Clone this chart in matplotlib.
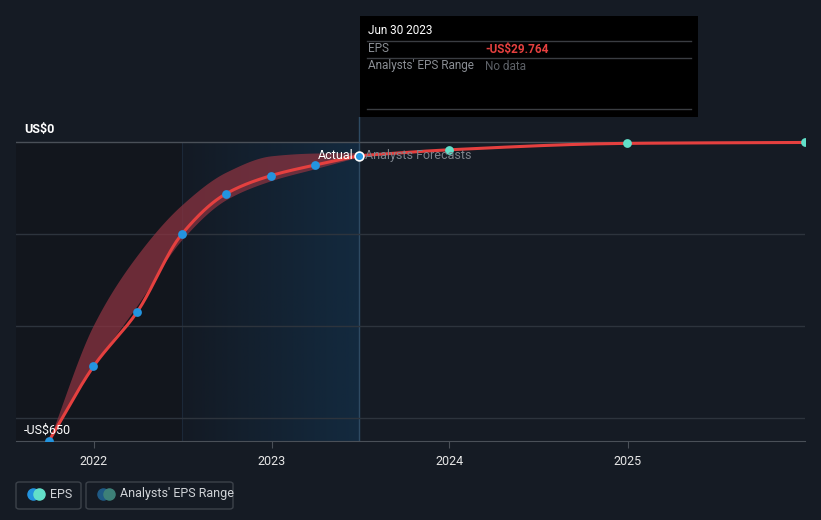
import matplotlib
matplotlib.use("Agg")
import matplotlib.pyplot as plt
import matplotlib.dates as mdates
from matplotlib.patches import FancyBboxPatch, Rectangle
from matplotlib.colors import LinearSegmentedColormap
import numpy as np
from datetime import datetime

plt.rcParams['font.family'] = ['Roboto', 'DejaVu Sans']

# ---- data ----
actual_dates = ["2021-09-30", "2021-12-31", "2022-03-31", "2022-06-30",
                "2022-09-30", "2022-12-31", "2023-03-31", "2023-06-30"]
actual_eps = [-651, -488, -369, -201, -112, -73, -50, -29.764]

forecast_dates = ["2023-06-30", "2023-12-31", "2024-12-31", "2025-12-31"]
forecast_eps = [-29.764, -17, -3, -1]

range_dates = actual_dates
range_high = [-651, -398, -246, -137, -65, -30, -24, -23]
range_low = [-651, -488, -355, -213, -125, -84, -58, -32]

year_ticks = ["2022", "2023", "2024", "2025"]

BG = "#151b24"


def to_num(ds):
    return np.array([mdates.date2num(datetime.strptime(d, "%Y-%m-%d")) for d in ds])


def monotone(x, y, n=400):
    x = np.asarray(x, float); y = np.asarray(y, float)
    h = np.diff(x); d = np.diff(y) / h
    m = np.zeros_like(y)
    m[0] = d[0]; m[-1] = d[-1]
    for i in range(1, len(y) - 1):
        if d[i - 1] * d[i] <= 0:
            m[i] = 0
        else:
            w1 = 2 * h[i] + h[i - 1]; w2 = h[i] + 2 * h[i - 1]
            m[i] = (w1 + w2) / (w1 / d[i - 1] + w2 / d[i])
    xs = np.linspace(x[0], x[-1], n)
    idx = np.clip(np.searchsorted(x, xs) - 1, 0, len(x) - 2)
    t = (xs - x[idx]) / h[idx]
    h00 = 2 * t**3 - 3 * t**2 + 1; h10 = t**3 - 2 * t**2 + t
    h01 = -2 * t**3 + 3 * t**2; h11 = t**3 - t**2
    ys = h00 * y[idx] + h10 * h[idx] * m[idx] + h01 * y[idx + 1] + h11 * h[idx] * m[idx + 1]
    return xs, ys


fig = plt.figure(figsize=(8.21, 5.20), dpi=100, facecolor=BG)
ax = fig.add_axes([16 / 821, 1 - 441 / 520, 789 / 821, (441 - 117) / 520])
ax.set_facecolor(BG)

xa = to_num(actual_dates); xf = to_num(forecast_dates); xr = to_num(range_dates)
x0 = mdates.date2num(datetime(2021, 7, 25))
x1 = mdates.date2num(datetime(2025, 12, 31))
ax.set_xlim(x0, x1)
y_bottom = -650
y_top = (142 - 117) / 0.46
ax.set_ylim(y_bottom, y_top)

# shaded regions
split1 = mdates.date2num(datetime(2022, 6, 30))
split2 = mdates.date2num(datetime(2023, 6, 30))
ax.add_patch(Rectangle((x0, y_bottom), split1 - x0, -y_bottom, facecolor="#12161d", lw=0, zorder=0))
grad = np.linspace(0, 1, 256).reshape(1, -1)
cm = LinearSegmentedColormap.from_list("g", ["#131a24", "#132a3f"])
ax.imshow(grad, cmap=cm, extent=[split1, split2, y_bottom, 0], aspect="auto", zorder=0.5)
ax.axvline(split2, color="#2e4a62", lw=1, zorder=1)
ax.plot([split1, split1], [y_bottom, 0], color="#1b2838", lw=0.8, zorder=1)

# gridlines
for g in [0, -200, -400, -600]:
    ax.axhline(g, color="#2d343d" if g else "#4a5058", lw=1, zorder=1)

# range band
xs, hs = monotone(xr, range_high)
_, ls = monotone(xr, range_low)
ax.fill_between(xs, ls, hs, color="#8a3340", alpha=0.75, lw=0, zorder=2)

# lines
xs_a, ys_a = monotone(xa, actual_eps)
ax.plot(xs_a, ys_a, color="#e5403f", lw=2.2, zorder=3, solid_capstyle="round")
xs_f, ys_f = monotone(xf, forecast_eps)
ax.plot(xs_f, ys_f, color="#e5403f", lw=2.2, zorder=3)

ax.scatter(xa[:-1], actual_eps[:-1], s=40, color="#2394df", zorder=4, lw=0)
ax.scatter(xa[-1:], actual_eps[-1:], s=40, color="#2394df", edgecolor="white", lw=1.2, zorder=5)
ax.scatter(xf[1:], forecast_eps[1:], s=40, color="#62e0c9", zorder=4, lw=0)

ax.text(split2 - 12, -29.764, "Actual", color="white", fontsize=9, ha="right", va="center", zorder=6)
ax.text(split2 + 12, -29.764, "Analysts Forecasts", color="#7d838b", fontsize=9, ha="left", va="center", zorder=6)

# axes styling
for s in ["left", "right", "top"]:
    ax.spines[s].set_visible(False)
ax.spines["bottom"].set_color("#4a5058")
ax.set_yticks([])
tick_pos = [mdates.date2num(datetime(int(y), 1, 1)) for y in year_ticks]
ax.set_xticks(tick_pos)
ax.set_xticklabels(year_ticks, color="#e6e6e6", fontsize=9)
ax.tick_params(axis="x", colors="#4a5058", length=5, pad=5, labelcolor="#e6e6e6")

# y labels
fig.text(24 / 821, 1 - 130 / 520, "US$0", color="white", fontsize=9, fontweight="bold", va="center", ha="left")
fig.text(24 / 821, 1 - 430 / 520, "-US$650", color="white", fontsize=9, va="center", ha="left")

# tooltip
fig.patches.append(Rectangle((360 / 821, 1 - 117 / 520), 338 / 821, 101 / 520,
                             transform=fig.transFigure, facecolor="black", edgecolor="none", zorder=10))
for yy in [41, 58, 109]:
    fig.lines.append(plt.Line2D([367 / 821, 691 / 821], [1 - yy / 520] * 2, transform=fig.transFigure,
                                color="#3a3d42", lw=1, zorder=11))
fig.text(368 / 821, 1 - 31 / 520, "Jun 30 2023", color="white", fontsize=8.5, va="center", zorder=12)
fig.text(368 / 821, 1 - 49 / 520, "EPS", color="#8a8e94", fontsize=8.5, va="center", zorder=12)
fig.text(485 / 821, 1 - 49 / 520, "-US$29.764", color="#e5403f", fontsize=8.5, fontweight="bold", va="center", zorder=12)
fig.text(368 / 821, 1 - 66 / 520, "Analysts' EPS Range", color="#8a8e94", fontsize=8.5, va="center", zorder=12)
fig.text(485 / 821, 1 - 66 / 520, "No data", color="#5d6167", fontsize=8.5, va="center", zorder=12)


# legend
def legend_box(x, w, c1, c2, label):
    fig.patches.append(FancyBboxPatch((x / 821, 1 - 509 / 520), w / 821, 27 / 520,
                                      boxstyle="round,pad=0,rounding_size=0.004", transform=fig.transFigure,
                                      facecolor="none", edgecolor="#3c424a", lw=1))
    fig.lines.append(plt.Line2D([(x + 16.5) / 821], [1 - 494 / 520], marker="o", markersize=8,
                                color=c1, transform=fig.transFigure, lw=0))
    fig.lines.append(plt.Line2D([(x + 22.5) / 821], [1 - 494 / 520], marker="o", markersize=8,
                                color=c2, transform=fig.transFigure, lw=0))
    fig.text((x + 34) / 821, 1 - 494 / 520, label, color="#d0d3d7", fontsize=9, va="center")


legend_box(16, 65, "#2394df", "#62e0c9", "EPS")
legend_box(86, 147, "#1f5a85", "#3d8078", "Analysts' EPS Range")

fig.savefig("out.png", dpi=100, facecolor=BG)
